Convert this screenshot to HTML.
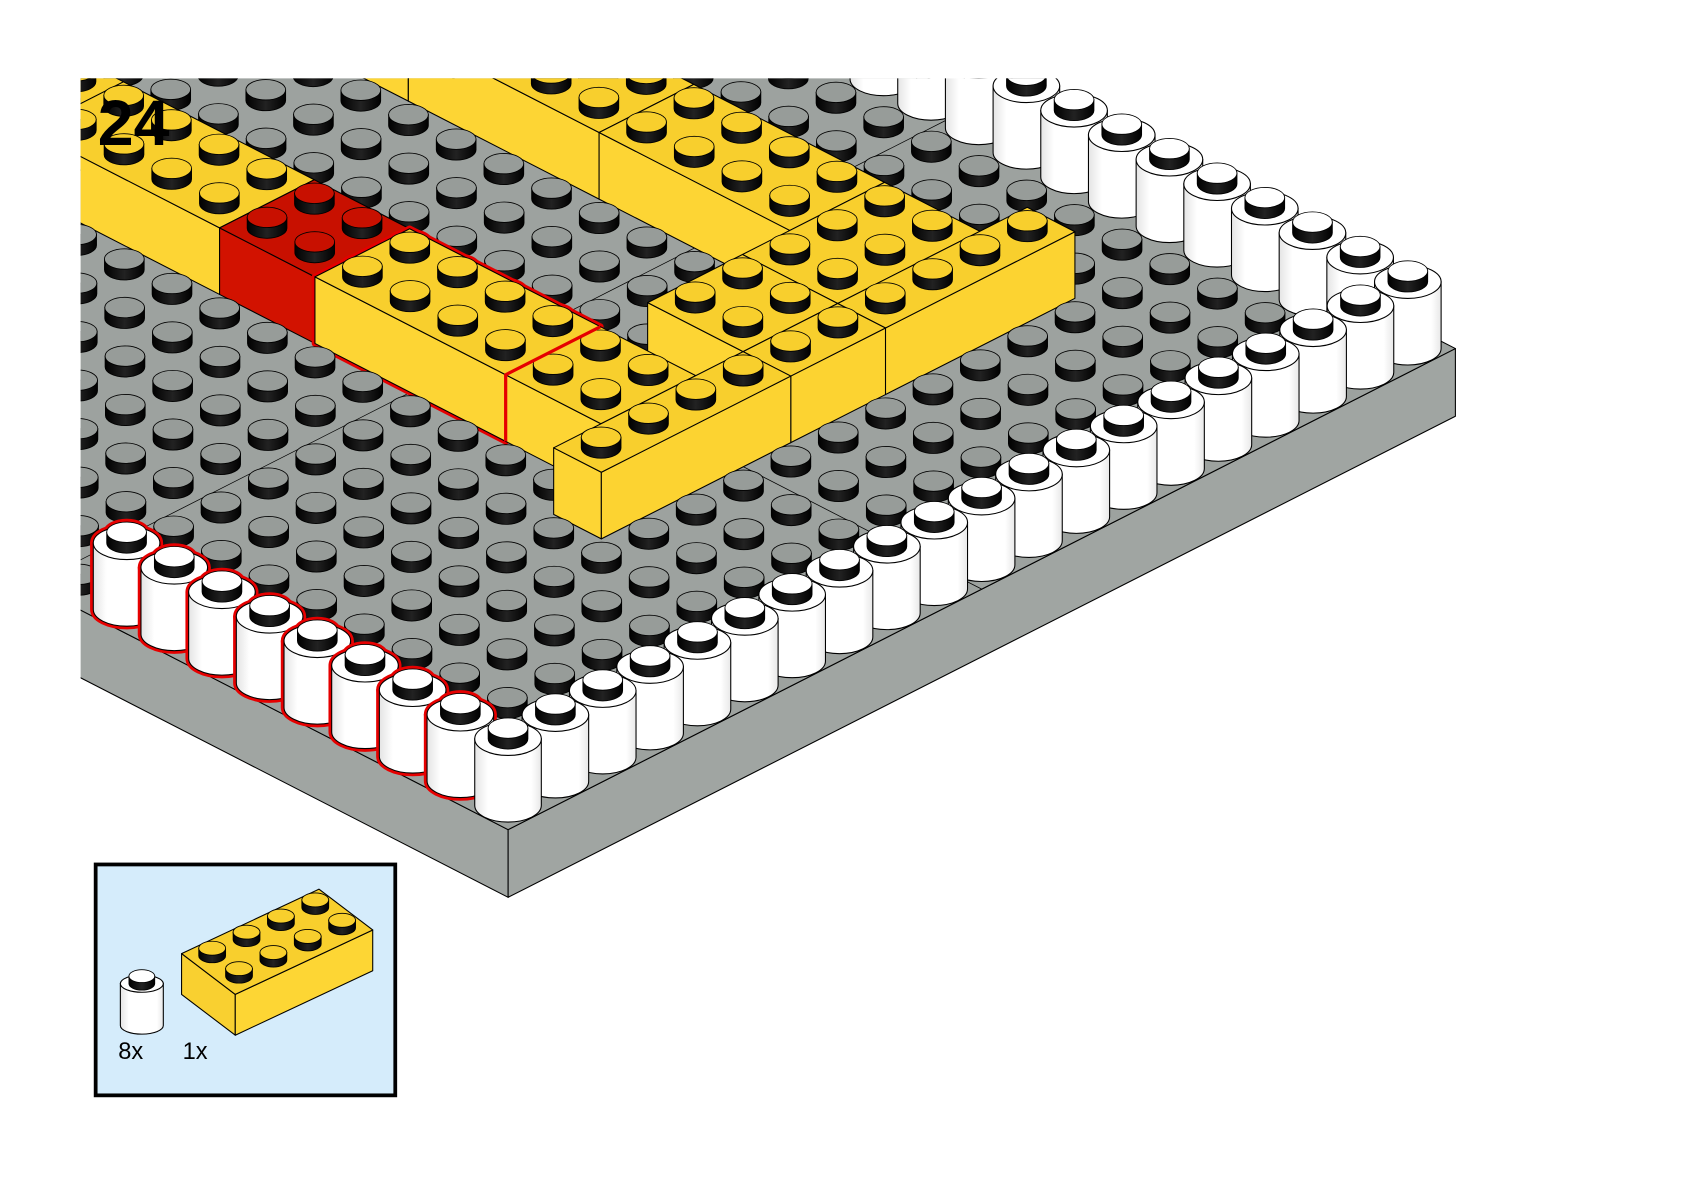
<!DOCTYPE html>
<html><head><meta charset="utf-8"><style>html,body{margin:0;padding:0;background:#fff;overflow:hidden}svg{display:block}</style></head>
<body>
<svg id="s" width="1684" height="1192" viewBox="0 0 1568 1110" xmlns="http://www.w3.org/2000/svg">
<defs>
<clipPath id="c"><rect x="75" y="73" width="1493" height="1037"/></clipPath>
<linearGradient id="wg" x1="0" x2="1" y1="0" y2="0"><stop offset="0" stop-color="#e4e4e4"/><stop offset="0.2" stop-color="#fff"/><stop offset="0.85" stop-color="#fff"/><stop offset="1" stop-color="#e8e8e8"/></linearGradient>
<linearGradient id="bg" x1="0" x2="1" y1="0" y2="0"><stop offset="0" stop-color="#000"/><stop offset="0.5" stop-color="#222"/><stop offset="1" stop-color="#000"/></linearGradient>
</defs>
<rect width="1568" height="1110" fill="#fff"/>
<g clip-path="url(#c)" id="main"></g>
<text x="91" y="135" font-family="Liberation Sans, sans-serif" font-weight="bold" font-size="60" fill="#000">24</text>
<rect x="89" y="805" width="279" height="215" fill="#d5ecfb" stroke="#000" stroke-width="3.5"/>
<g id="parts"></g>
<text x="110" y="986" font-family="Liberation Sans, sans-serif" font-size="22" fill="#000">8x</text>
<text x="170" y="986" font-family="Liberation Sans, sans-serif" font-size="22" fill="#000">1x</text>
</svg>
<script>
(function(){
var H=62, RED="#e60000";
function P(i,j,z){return [473-44.4*i+44.1*j, 750-22.8*i-22.4*j-(z||0)];}
function f(n){return n.toFixed(1);}
function pts(a){return a.map(function(p){return f(p[0])+','+f(p[1]);}).join(' ');}
function poly(a,fill,st,sw){return '<polygon points="'+pts(a)+'" fill="'+fill+'" stroke="'+(st||'#000')+'" stroke-width="'+(sw||1)+'" stroke-linejoin="round"/>';}
function stud(c,rx,ry,h,top,halo){
  var x=c[0],y=c[1];
  var d='M'+f(x-rx)+','+f(y-h)+' L'+f(x-rx)+','+f(y)+' A'+rx+','+ry+' 0 0 0 '+f(x+rx)+','+f(y)+' L'+f(x+rx)+','+f(y-h)+' Z';
  if(halo) return '<path d="'+d+'" fill="'+RED+'" stroke="'+RED+'" stroke-width="6" stroke-linejoin="round"/><ellipse cx="'+f(x)+'" cy="'+f(y-h)+'" rx="'+rx+'" ry="'+ry+'" fill="'+RED+'" stroke="'+RED+'" stroke-width="6"/>';
  return '<path d="'+d+'" fill="url(#bg)" stroke="#000" stroke-width="0.8"/><ellipse cx="'+f(x)+'" cy="'+f(y-h)+'" rx="'+rx+'" ry="'+ry+'" fill="'+top+'" stroke="#000" stroke-width="0.8"/>';
}
var COL={y:{top:'#f8cf2d',l:'#fdd534',r:'#fcd331',s:'#f8cf2d'},r:{top:'#c81000',l:'#d21200',r:'#cf1100',s:'#c81000'}};
function brick(b,halo){
  var F=[b.i0-.5,b.j0-.5],L=[b.i1+.5,b.j0-.5],R=[b.i0-.5,b.j1+.5],B=[b.i1+.5,b.j1+.5];
  var c=COL[b.c],o='';
  var cells=[];
  for(var i=b.i0;i<=b.i1;i++)for(var j=b.j0;j<=b.j1;j++)cells.push([i,j]);
  cells.sort(function(a,b){return (b[0]+b[1])-(a[0]+a[1]);});
  if(halo){
    o+=poly([P(L[0],L[1],0),P(L[0],L[1],H),P(B[0],B[1],H),P(R[0],R[1],H),P(R[0],R[1],0),P(F[0],F[1],0)],RED,RED,6);
    cells.forEach(function(q){o+=stud(P(q[0],q[1],H),18.5,9.5,10,'',true);});
    return o;
  }
  o+=poly([P(L[0],L[1],H),P(F[0],F[1],H),P(F[0],F[1],0),P(L[0],L[1],0)],c.l);
  o+=poly([P(F[0],F[1],H),P(R[0],R[1],H),P(R[0],R[1],0),P(F[0],F[1],0)],c.r);
  o+=poly([P(F[0],F[1],H),P(L[0],L[1],H),P(B[0],B[1],H),P(R[0],R[1],H)],c.top);
  cells.forEach(function(q){o+=stud(P(q[0],q[1],H),18.5,9.5,10,c.s,false);});
  return o;
}
function white(w,halo){
  var C=P(w.i0,w.j0,0),T=P(w.i0,w.j0,H),rx=31,ry=15.5,x=C[0];
  var d='M'+f(x-rx)+','+f(T[1])+' L'+f(x-rx)+','+f(C[1])+' A'+rx+','+ry+' 0 0 0 '+f(x+rx)+','+f(C[1])+' L'+f(x+rx)+','+f(T[1])+' Z';
  if(halo){
    return '<path d="'+d+'" fill="'+RED+'" stroke="'+RED+'" stroke-width="6" stroke-linejoin="round"/><ellipse cx="'+f(x)+'" cy="'+f(T[1])+'" rx="'+rx+'" ry="'+ry+'" fill="'+RED+'" stroke="'+RED+'" stroke-width="6"/>'+stud(T,18.5,9.5,10,'',true);
  }
  return '<path d="'+d+'" fill="url(#wg)" stroke="#000" stroke-width="1"/><ellipse cx="'+f(x)+'" cy="'+f(T[1])+'" rx="'+rx+'" ry="'+ry+'" fill="#fff" stroke="#000" stroke-width="1"/>'+stud(T,18.5,9.5,10,'#fff',false);
}
var bricks=[
 {i0:18,i1:21,j0:8,j1:9,c:'y'},
 {i0:14,i1:17,j0:8,j1:9,c:'y'},
 {i0:12,i1:13,j0:8,j1:9,c:'r'},
 {i0:8,i1:11,j0:8,j1:9,c:'y',out:1},
 {i0:6,i1:7,j0:8,j1:9,c:'y'},
 {i0:5,i1:5,j0:7,j1:10,c:'y'},
 {i0:5,i1:5,j0:11,j1:12,c:'y'},
 {i0:6,i1:7,j0:11,j1:12,c:'y'},
 {i0:5,i1:5,j0:13,j1:16,c:'y'},
 {i0:6,i1:7,j0:13,j1:15,c:'y'},
 {i0:8,i1:11,j0:14,j1:15,c:'y'},
 {i0:12,i1:15,j0:14,j1:15,c:'y'},
 {i0:16,i1:19,j0:14,j1:15,c:'y'}
];
var items=[],occ={};
bricks.forEach(function(b){b.k='b';items.push(b);for(var i=b.i0;i<=b.i1;i++)for(var j=b.j0;j<=b.j1;j++)occ[i+','+j]=1;});
function addW(i,j,out){if(occ[i+','+j])return;occ[i+','+j]=1;items.push({k:'w',i0:i,i1:i,j0:j,j1:j,out:out});}
for(var i=0;i<=8;i++)addW(i,0,i>=1);
for(var j=1;j<=19;j++)addW(0,j,false);
for(var i=1;i<=15;i++)addW(i,19,false);
for(var i=0;i<=45;i++)for(var j=0;j<=19;j++){
  if(occ[i+','+j])continue;var c=P(i,j,0);
  if(c[0]>30&&c[0]<1420&&c[1]>40&&c[1]<800)items.push({k:'s',i0:i,i1:i,j0:j,j1:j});
}
function front(X,Y){
  var xf=(X.i1<Y.i0)||(X.j1<Y.j0), yf=(Y.i1<X.i0)||(Y.j1<X.j0);
  if(xf&&!yf)return 1; if(yf&&!xf)return -1;
  var sx=X.i0+X.i1+X.j0+X.j1, sy=Y.i0+Y.i1+Y.j0+Y.j1;
  return sx<sy?1:(sx>sy?-1:0);
}
var n=items.length,adj=[],indeg=[];
for(var a=0;a<n;a++){adj.push([]);indeg.push(0);}
for(var a=0;a<n;a++)for(var b=a+1;b<n;b++){
  var A=items[a],B=items[b];
  if(A.k==='s'&&B.k==='s')continue;
  var a0=A.i0-A.j1-1,a1=A.i1-A.j0+1,b0=B.i0-B.j1-1,b1=B.i1-B.j0+1;
  if(!(a0<b1&&b0<a1))continue;
  var r=front(A,B);
  if(r===1){adj[b].push(a);indeg[a]++;}else if(r===-1){adj[a].push(b);indeg[b]++;}
}
function key(it){return it.i0+it.i1+it.j0+it.j1;}
var order=[],done=[],q=[];
for(var a=0;a<n;a++)if(indeg[a]===0)q.push(a);
while(q.length){
  q.sort(function(x,y){return key(items[y])-key(items[x]);});
  var x=q.shift();order.push(x);done[x]=1;
  adj[x].forEach(function(y){indeg[y]--;if(indeg[y]===0)q.push(y);});
}
var rest=[];for(var a=0;a<n;a++)if(!done[a])rest.push(a);
rest.sort(function(x,y){return key(items[y])-key(items[x]);});
order=order.concat(rest);
var out='';
var PC='#9da29f';
out+=poly([P(-.5,-.5,0),P(60,-.5,0),P(60,-.5,-63),P(-.5,-.5,-63)],'#a0a5a2');
out+=poly([P(-.5,-.5,0),P(-.5,19.5,0),P(-.5,19.5,-63),P(-.5,-.5,-63)],'#a0a5a2');
out+=poly([P(-.5,-.5,0),P(-.5,19.5,0),P(60,19.5,0),P(60,-.5,0)],PC);
out+='<polyline points="'+pts([P(9.5,-.5,0),P(9.5,19.5,0)])+'" fill="none" stroke="#000" stroke-width="0.7"/>';
out+='<polyline points="'+pts([P(-.5,9.5,0),P(60,9.5,0)])+'" fill="none" stroke="#000" stroke-width="0.7"/>';
order.forEach(function(ix){
  var it=items[ix];
  if(it.k==='s')out+=stud(P(it.i0,it.j0,0),18.5,9.5,10,'#979c99',false);
  else if(it.k==='b'){if(it.out)out+=brick(it,true);out+=brick(it,false);}
  else {if(it.out)out+=white(it,true);out+=white(it,false);}
});
out+='<polyline points="'+pts([P(7.5,9.5,H),P(7.5,7.5,H),P(7.5,7.5,0)])+'" fill="none" stroke="'+RED+'" stroke-width="3" stroke-linejoin="round"/>';
document.getElementById('main').innerHTML=out;

var p='';
var Lc=[169,888];
function pc(a,b){return [Lc[0]+a*32+b*25, Lc[1]-a*15+b*19];}
var tp=[pc(0,0),pc(4,0),pc(4,2),pc(0,2)];
var hh=38;
function dn(q){return [q[0],q[1]+hh];}
p+=poly([tp[0],tp[3],dn(tp[3]),dn(tp[0])],'#f9d030');
p+=poly([tp[3],tp[2],dn(tp[2]),dn(tp[3])],'#fdd634');
p+=poly(tp,'#f8cf2d');
var sc=[];
for(var a=0;a<4;a++)for(var b=0;b<2;b++)sc.push([a,b]);
sc.sort(function(x,y){var px=pc(x[0]+.5,x[1]+.5),py=pc(y[0]+.5,y[1]+.5);return px[1]-py[1];});
sc.forEach(function(s){p+=stud(pc(s[0]+.5,s[1]+.5),12.5,6.5,7,'#f8cf2d',false);});
var cx=132,ty=916,by=955,rx=20,ry=8;
p+='<path d="M'+(cx-rx)+','+ty+' L'+(cx-rx)+','+by+' A'+rx+','+ry+' 0 0 0 '+(cx+rx)+','+by+' L'+(cx+rx)+','+ty+' Z" fill="url(#wg)" stroke="#000" stroke-width="1"/>';
p+='<ellipse cx="'+cx+'" cy="'+ty+'" rx="'+rx+'" ry="'+ry+'" fill="#fff" stroke="#000" stroke-width="1"/>';
p+=stud([cx,ty],12,6,7,'#fff',false);
document.getElementById('parts').innerHTML=p;
})();
</script>
</body></html>
